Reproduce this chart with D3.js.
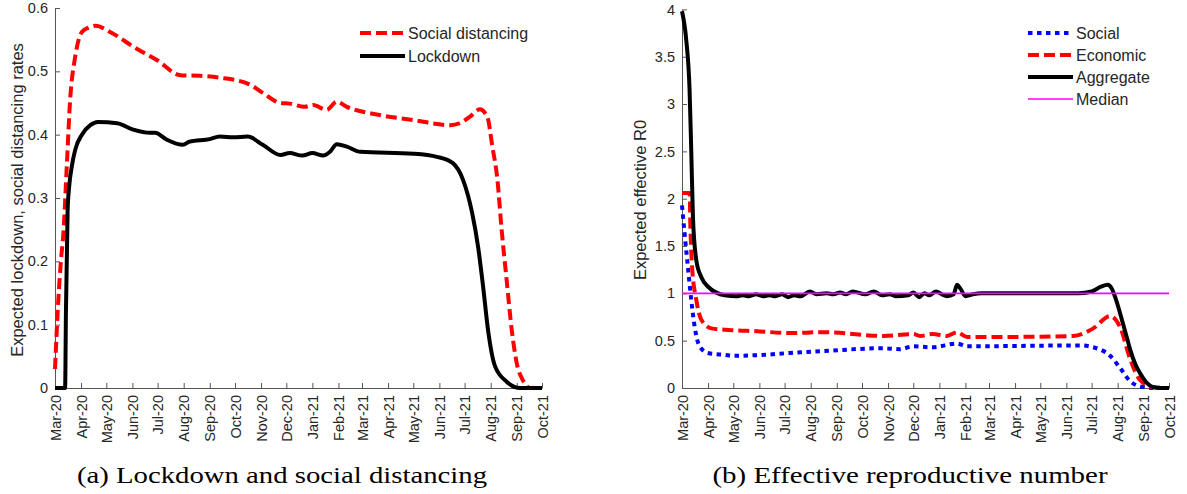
<!DOCTYPE html>
<html>
<head>
<meta charset="utf-8">
<script src="https://cdn.jsdelivr.net/npm/d3@7"></script>
<style>
  body { margin: 0; background: #fff; }
  svg { display: block; font-family: "Liberation Sans", Arial, sans-serif; }
  .tick text { fill: #262626; font-size: 14.5px; }
  .domain, .tick line { stroke: #555; }
</style>
</head>
<body>
<script>
// ---- data ----
// (a) lockdown and social distancing
var socialDistancing = [
  ["2020-03-01", 0.03], ["2020-03-05", 0.14], ["2020-03-08", 0.20], ["2020-03-11", 0.245],
  ["2020-03-15", 0.35], ["2020-03-19", 0.455], ["2020-03-25", 0.523], ["2020-04-02", 0.562],
  ["2020-04-10", 0.569], ["2020-04-18", 0.572], ["2020-05-07", 0.561], ["2020-06-02", 0.539],
  ["2020-06-30", 0.518], ["2020-07-28", 0.494], ["2020-08-20", 0.493], ["2020-09-13", 0.490],
  ["2020-10-19", 0.479], ["2020-11-03", 0.466], ["2020-11-24", 0.450], ["2020-12-05", 0.449],
  ["2020-12-23", 0.444], ["2021-01-02", 0.447], ["2021-01-18", 0.439], ["2021-01-30", 0.452],
  ["2021-02-11", 0.444], ["2021-03-22", 0.431], ["2021-05-01", 0.423], ["2021-06-14", 0.415],
  ["2021-06-25", 0.418], ["2021-07-07", 0.428], ["2021-07-19", 0.440], ["2021-07-28", 0.428],
  ["2021-08-03", 0.381], ["2021-08-09", 0.329], ["2021-08-14", 0.250], ["2021-08-20", 0.170],
  ["2021-08-26", 0.092], ["2021-09-01", 0.039], ["2021-09-08", 0.013], ["2021-09-17", 0],
  ["2021-10-01", 0]
];
var lockdown = [
  ["2020-03-01", 0], ["2020-03-13", 0], ["2020-03-14", 0.12], ["2020-03-16", 0.28],
  ["2020-03-18", 0.32], ["2020-03-21", 0.35], ["2020-03-25", 0.376], ["2020-04-02", 0.400],
  ["2020-04-12", 0.415], ["2020-04-21", 0.420], ["2020-05-14", 0.418], ["2020-06-02", 0.408],
  ["2020-06-22", 0.403], ["2020-06-28", 0.403], ["2020-07-12", 0.392], ["2020-07-31", 0.384],
  ["2020-08-08", 0.389], ["2020-09-01", 0.393], ["2020-09-13", 0.397], ["2020-09-29", 0.396],
  ["2020-10-16", 0.397], ["2020-11-03", 0.384], ["2020-11-24", 0.368], ["2020-12-05", 0.371],
  ["2020-12-20", 0.367], ["2021-01-01", 0.371], ["2021-01-14", 0.367], ["2021-01-22", 0.373],
  ["2021-01-30", 0.385], ["2021-02-11", 0.381], ["2021-02-27", 0.373], ["2021-05-01", 0.370],
  ["2021-05-29", 0.365], ["2021-06-17", 0.355], ["2021-06-29", 0.329], ["2021-07-10", 0.276],
  ["2021-07-17", 0.223], ["2021-07-23", 0.160], ["2021-07-29", 0.090], ["2021-08-06", 0.035],
  ["2021-08-20", 0.010], ["2021-09-05", 0], ["2021-10-01", 0]
];

// (b) effective reproductive number
var r0Social = [
  ["2020-03-01", 1.93], ["2020-03-04", 1.64], ["2020-03-08", 1.28], ["2020-03-12", 0.93],
  ["2020-03-16", 0.65], ["2020-03-22", 0.44], ["2020-04-01", 0.37], ["2020-04-21", 0.35],
  ["2020-05-01", 0.34], ["2020-06-05", 0.35], ["2020-07-07", 0.37], ["2020-08-16", 0.39],
  ["2020-10-26", 0.42], ["2020-11-15", 0.41], ["2020-12-01", 0.44], ["2020-12-24", 0.43],
  ["2021-01-22", 0.47], ["2021-02-03", 0.44], ["2021-06-17", 0.45], ["2021-07-03", 0.43],
  ["2021-07-23", 0.34], ["2021-08-04", 0.21], ["2021-08-16", 0.07], ["2021-08-31", 0.01],
  ["2021-09-15", 0], ["2021-10-01", 0]
];
var r0Economic = [
  ["2020-03-01", 2.06], ["2020-03-10", 2.06], ["2020-03-11", 1.70], ["2020-03-13", 1.28],
  ["2020-03-18", 0.93], ["2020-03-24", 0.72], ["2020-04-05", 0.63], ["2020-05-01", 0.61],
  ["2020-05-29", 0.60], ["2020-07-07", 0.58], ["2020-08-16", 0.59], ["2020-10-26", 0.55],
  ["2020-12-01", 0.57], ["2020-12-09", 0.55], ["2020-12-24", 0.57], ["2021-01-10", 0.55],
  ["2021-01-22", 0.59], ["2021-02-03", 0.54], ["2021-03-30", 0.54], ["2021-06-09", 0.55],
  ["2021-07-03", 0.63], ["2021-07-23", 0.76], ["2021-08-04", 0.64], ["2021-08-16", 0.30],
  ["2021-08-28", 0.08], ["2021-09-12", 0.01], ["2021-10-01", 0]
];
var r0Aggregate = [
  ["2020-03-01", 3.98], ["2020-03-06", 3.68], ["2020-03-10", 3.15], ["2020-03-12", 2.51],
  ["2020-03-14", 1.81], ["2020-03-18", 1.35], ["2020-03-24", 1.17], ["2020-04-01", 1.07],
  ["2020-04-21", 0.98], ["2020-05-05", 0.97], ["2020-05-12", 0.98], ["2020-05-20", 0.97],
  ["2020-05-28", 0.99], ["2020-06-05", 0.97], ["2020-06-13", 0.98], ["2020-06-20", 0.97],
  ["2020-06-28", 0.99], ["2020-07-05", 0.96], ["2020-07-12", 0.98], ["2020-07-20", 0.97],
  ["2020-07-31", 1.02], ["2020-08-08", 0.99], ["2020-08-20", 1.00], ["2020-08-28", 0.99],
  ["2020-09-05", 1.01], ["2020-09-12", 0.99], ["2020-09-20", 1.02], ["2020-10-05", 0.99],
  ["2020-10-15", 1.02], ["2020-10-25", 0.98], ["2020-11-03", 0.99], ["2020-11-10", 0.97],
  ["2020-11-25", 0.98], ["2020-12-01", 1.01], ["2020-12-08", 0.96], ["2020-12-14", 1.00],
  ["2020-12-20", 0.98], ["2020-12-28", 1.02], ["2021-01-04", 0.99], ["2021-01-10", 0.97],
  ["2021-01-18", 0.99], ["2021-01-22", 1.09], ["2021-01-26", 1.05], ["2021-02-01", 0.97],
  ["2021-02-10", 0.99], ["2021-02-20", 1.00], ["2021-06-15", 1.00], ["2021-07-01", 1.02],
  ["2021-07-12", 1.07], ["2021-07-20", 1.09], ["2021-07-25", 1.05], ["2021-07-29", 0.96],
  ["2021-08-07", 0.69], ["2021-08-12", 0.53], ["2021-08-16", 0.40], ["2021-08-22", 0.25],
  ["2021-08-28", 0.15], ["2021-09-04", 0.06], ["2021-09-12", 0.01], ["2021-09-20", 0],
  ["2021-10-01", 0]
];
var r0Median = [["2020-03-01", 1], ["2021-10-01", 1]];

var dateDomain = ["2020-03-01", "2021-10-01"];
var leftTicks = [0, 0.1, 0.2, 0.3, 0.4, 0.5, 0.6];
var rightTicks = [0, 0.5, 1, 1.5, 2, 2.5, 3, 3.5, 4];

var parse = d3.timeParse("%Y-%m-%d");

let svg = d3.select("body").append("svg")
    .attr("width", 1187)
    .attr("height", 494);

// draws one MATLAB style panel (box off, ticks inward)
function makePanel(opt) {
    let x = d3.scaleTime().domain(dateDomain.map(parse)).range([opt.x0, opt.x1]);
    let y = d3.scaleLinear().domain([0, opt.yMax]).range([opt.y0, opt.y1]);

    let xAxis = d3.axisBottom(x)
        .ticks(d3.timeMonth.every(1))
        .tickFormat(d3.timeFormat("%b-%y"))
        .tickSizeInner(-5).tickSizeOuter(0);
    svg.append("g")
        .attr("transform", "translate(0," + opt.y0 + ")")
        .call(xAxis)
        .call(g => g.selectAll(".tick text")
            .attr("transform", "rotate(-90)")
            .attr("text-anchor", "end")
            .attr("x", -7).attr("y", 0).attr("dy", "0.35em"));

    let yAxis = d3.axisLeft(y)
        .tickValues(opt.yTicks)
        .tickFormat(d3.format("~g"))
        .tickSizeInner(-5).tickSizeOuter(0)
        .tickPadding(7);
    svg.append("g")
        .attr("transform", "translate(" + opt.x0 + ",0)")
        .call(yAxis);

    svg.append("text")
        .attr("transform", "translate(" + opt.labelX + ",200) rotate(-90)")
        .attr("text-anchor", "middle")
        .attr("font-size", "16.5px")
        .attr("fill", "#262626")
        .text(opt.yLabel);

    let line = d3.line()
        .x(d => x(parse(d[0])))
        .y(d => y(d[1]))
        .curve(d3.curveMonotoneX);

    opt.series.forEach(function (s) {
        svg.append("path")
            .datum(s.data)
            .attr("fill", "none")
            .attr("stroke", s.color)
            .attr("stroke-width", s.width)
            .attr("stroke-dasharray", s.dash)
            .attr("stroke-linejoin", "round")
            .attr("d", line);
    });

    // legend, no box
    let legend = svg.selectAll(null)
        .data(opt.series)
        .enter().append("g")
        .attr("transform", (d, i) => "translate(" + opt.legX + "," + (opt.legY + i * opt.legStep) + ")");
    legend.append("line")
        .attr("x1", 0).attr("x2", 45)
        .attr("stroke", d => d.color)
        .attr("stroke-width", d => d.width)
        .attr("stroke-dasharray", d => d.dash);
    legend.append("text")
        .attr("x", 48).attr("dy", "0.35em")
        .attr("font-size", "16px")
        .attr("fill", "#262626")
        .text(d => d.name);

    svg.append("text")
        .attr("x", opt.capX).attr("y", 483)
        .attr("text-anchor", "middle")
        .attr("font-family", "'Liberation Serif', serif")
        .attr("font-size", "24px")
        .attr("fill", "#000")
        .attr("textLength", opt.capW)
        .attr("lengthAdjust", "spacingAndGlyphs")
        .text(opt.caption);
}

makePanel({
    x0: 55, x1: 542, y0: 388, y1: 8, yMax: 0.6, yTicks: leftTicks,
    labelX: 23, yLabel: "Expected lockdown, social distancing rates",
    legX: 360, legY: 33, legStep: 23,
    capX: 282, capW: 410, caption: "(a) Lockdown and social distancing",
    series: [
        { name: "Social distancing", data: socialDistancing, color: "#ff0000", width: 4, dash: "11,5" },
        { name: "Lockdown", data: lockdown, color: "#000000", width: 4, dash: null }
    ]
});

makePanel({
    x0: 682, x1: 1169, y0: 388, y1: 9.4, yMax: 4, yTicks: rightTicks,
    labelX: 646, yLabel: "Expected effective R0",
    legX: 1028, legY: 33, legStep: 22,
    capX: 910, capW: 395, caption: "(b) Effective reproductive number",
    series: [
        { name: "Social", data: r0Social, color: "#0000ff", width: 4, dash: "4.5,4.5" },
        { name: "Economic", data: r0Economic, color: "#ff0000", width: 4, dash: "11,5" },
        { name: "Aggregate", data: r0Aggregate, color: "#000000", width: 4, dash: null },
        { name: "Median", data: r0Median, color: "#ff00ff", width: 1.6, dash: null }
    ]
});
</script>
</body>
</html>
